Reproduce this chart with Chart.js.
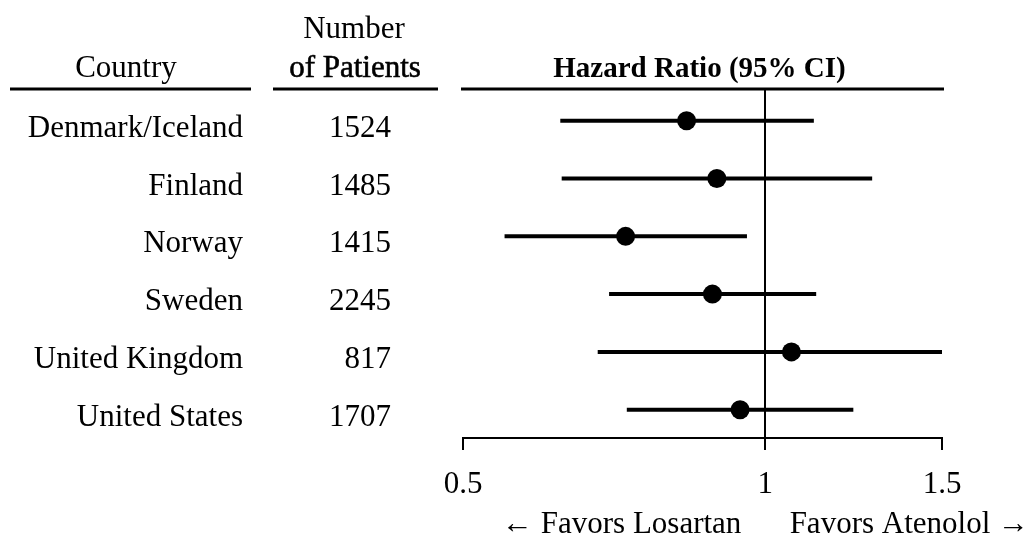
<!DOCTYPE html>
<html>
<head>
<meta charset="utf-8">
<script src="https://cdn.jsdelivr.net/npm/chart.js@4.4.1/dist/chart.umd.min.js"></script>
<style>
  html, body { margin: 0; padding: 0; background: #ffffff; }
  #wrap { width: 1031px; height: 536px; position: relative; }
</style>
</head>
<body>
<div id="wrap"><canvas id="forest" width="1031" height="536"></canvas></div>
<script>
// Per-country results
const countries = ['Denmark/Iceland', 'Finland', 'Norway', 'Sweden', 'United Kingdom', 'United States'];
const patients = [1524, 1485, 1415, 2245, 817, 1707];
const hazardRatio = [0.835, 0.895, 0.726, 0.886, 1.062, 0.944];
const ciLower = [0.625, 0.627, 0.550, 0.699, 0.681, 0.728];
const ciUpper = [1.118, 1.278, 0.959, 1.124, 1.505, 1.224];

// Axis ticks and column titles
const xTicks = [0.5, 1, 1.5];
const countryTitle = ['Country'];
const patientsTitle = ['Number', 'of Patients'];
const ratioTitle = ['Hazard Ratio (95% CI)'];
const directionLabels = ['\u2190 Favors Losartan', 'Favors Atenolol \u2192'];

const SERIF = '"Liberation Serif", "Times New Roman", "DejaVu Serif", serif';
const INK = '#000000';

// One horizontal segment per country for the confidence interval
const ciDatasets = countries.map((name, i) => ({
  type: 'line',
  label: name + ' 95% CI',
  data: [{ x: ciLower[i], y: i }, { x: ciUpper[i], y: i }],
  borderColor: INK,
  borderWidth: 4,
  borderCapStyle: 'butt',
  pointRadius: 0,
  pointHoverRadius: 0,
  fill: false,
  order: 2
}));

const pointDataset = {
  type: 'scatter',
  label: 'Hazard ratio',
  data: hazardRatio.map((v, i) => ({ x: v, y: i })),
  backgroundColor: INK,
  borderColor: INK,
  borderWidth: 0,
  pointRadius: 9.5,
  pointHoverRadius: 9.5,
  order: 1
};

// Column text, header rules and axis captions
const forestText = {
  id: 'forestText',
  afterDraw(chart) {
    const ctx = chart.ctx;
    const xs = chart.scales.x;
    const ys = chart.scales.y;
    const area = chart.chartArea;
    ctx.save();
    ctx.fillStyle = INK;
    ctx.strokeStyle = INK;
    ctx.textBaseline = 'alphabetic';

    // headers
    ctx.font = '31px ' + SERIF;
    ctx.textAlign = 'center';
    ctx.fillText(patientsTitle[0], 354, 38);
    ctx.fillText(countryTitle[0], 126, 77);
    ctx.fillText(patientsTitle[1], 355, 77);
    ctx.lineWidth = 0.6;
    ctx.strokeText(patientsTitle[1], 355, 77);
    ctx.font = 'bold 29px ' + SERIF;
    ctx.fillText(ratioTitle[0], (area.left + area.right) / 2 - 3, 77);

    // header rules
    ctx.lineWidth = 3;
    const ruleY = area.top;
    [[10, 251], [273, 438], [area.left - 2, area.right + 2]].forEach(([a, b]) => {
      ctx.beginPath();
      ctx.moveTo(a, ruleY);
      ctx.lineTo(b, ruleY);
      ctx.stroke();
    });

    // row labels
    ctx.font = '31px ' + SERIF;
    ctx.textAlign = 'right';
    countries.forEach((name, i) => {
      const y = ys.getPixelForValue(i) + 16;
      ctx.fillText(name, 243, y);
      ctx.fillText(String(patients[i]), 391, y);
    });

    // x tick labels
    ctx.textAlign = 'center';
    xs.ticks.forEach(t => {
      ctx.fillText(String(t.value), xs.getPixelForValue(t.value), 493);
    });

    // direction captions
    ctx.textAlign = 'left';
    ctx.fillText(directionLabels[0], 502, 533);
    ctx.textAlign = 'right';
    ctx.fillText(directionLabels[1], 1029, 533);
    ctx.restore();
  }
};

new Chart(document.getElementById('forest'), {
  data: { datasets: [...ciDatasets, pointDataset] },
  options: {
    responsive: false,
    animation: false,
    devicePixelRatio: 1,
    layout: { padding: { left: 463, right: 89, top: 89, bottom: 86 } },
    plugins: { legend: { display: false }, tooltip: { enabled: false } },
    scales: {
      x: {
        type: 'logarithmic',
        min: 0.5,
        max: 1.5,
        afterBuildTicks: (scale) => { scale.ticks = xTicks.map(v => ({ value: v })); },
        ticks: { display: false },
        border: { display: true, color: INK, width: 2 },
        grid: {
          drawOnChartArea: true,
          drawTicks: true,
          tickLength: 12,
          tickWidth: 2,
          tickColor: INK,
          lineWidth: 2,
          color: (c) => (c.tick && c.tick.value === 1 ? INK : 'rgba(0,0,0,0)')
        }
      },
      y: {
        type: 'linear',
        reverse: true,
        min: -0.55,
        max: 5.49,
        display: false
      }
    }
  },
  plugins: [forestText]
});
</script>
</body>
</html>
